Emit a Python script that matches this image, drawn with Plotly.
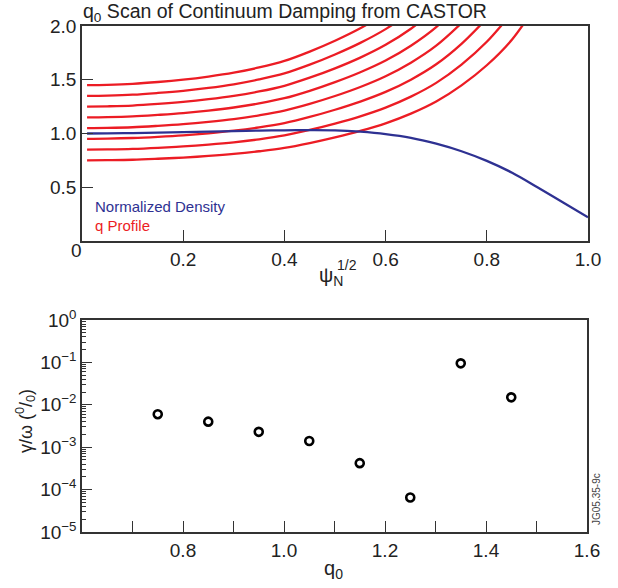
import plotly.graph_objects as go

# ---------------- data ----------------
psi = [0.01, 0.05, 0.10, 0.15, 0.20, 0.25, 0.30, 0.35, 0.40, 0.45, 0.50,
       0.55, 0.60, 0.65, 0.70, 0.75, 0.80, 0.85, 0.90, 0.95, 1.00]

density = [1.000, 1.002, 1.004, 1.008, 1.012, 1.017, 1.022, 1.027, 1.030, 1.032, 1.030,
           1.017, 0.995, 0.960, 0.905, 0.835, 0.745, 0.635, 0.500, 0.360, 0.220]

q_075 = [0.750, 0.752, 0.756, 0.765, 0.776, 0.791, 0.810, 0.835, 0.866, 0.911, 0.964,
         1.024, 1.095, 1.185, 1.298, 1.448, 1.635, 1.875, 2.213]
q_085 = [0.850, 0.852, 0.857, 0.867, 0.880, 0.897, 0.918, 0.946, 0.982, 1.033, 1.092,
         1.160, 1.241, 1.343, 1.471, 1.641, 1.853, 2.125]
q_095 = [0.950, 0.952, 0.958, 0.969, 0.983, 1.002, 1.026, 1.057, 1.097, 1.154, 1.221,
         1.297, 1.387, 1.501, 1.644, 1.834, 2.071]
q_105 = [1.050, 1.052, 1.058, 1.071, 1.087, 1.108, 1.134, 1.169, 1.213, 1.276, 1.349,
         1.433, 1.533, 1.659, 1.817, 2.027]
q_115 = [1.150, 1.152, 1.159, 1.173, 1.190, 1.213, 1.242, 1.280, 1.328, 1.397, 1.478,
         1.570, 1.679, 1.817, 1.990, 2.220]
q_125 = [1.250, 1.253, 1.260, 1.275, 1.294, 1.319, 1.350, 1.391, 1.444, 1.519, 1.606,
         1.706, 1.825, 1.975, 2.163]
q_135 = [1.350, 1.353, 1.361, 1.377, 1.397, 1.424, 1.458, 1.503, 1.559, 1.640, 1.735,
         1.843, 1.971, 2.133]
q_145 = [1.450, 1.453, 1.462, 1.479, 1.501, 1.530, 1.566, 1.614, 1.675, 1.762, 1.863,
         1.979, 2.117]
q_profiles = [q_075, q_085, q_095, q_105, q_115, q_125, q_135, q_145]

q0_scan = [0.75, 0.85, 0.95, 1.05, 1.15, 1.25, 1.35, 1.45]
damping = [6.0e-3, 4.0e-3, 2.3e-3, 1.4e-3, 4.2e-4, 6.5e-5, 9.5e-2, 1.5e-2]

top_xticks = [0.2, 0.4, 0.6, 0.8, 1.0]
top_yticks = [0.5, 1.0, 1.5, 2.0]
bot_xticks = [0.8, 1.0, 1.2, 1.4, 1.6]
bot_yticks = [1e-5, 1e-4, 1e-3, 1e-2, 1e-1, 1e0]
bot_yticktext = ["10<sup>−5</sup>", "10<sup>−4</sup>", "10<sup>−3</sup>",
                 "10<sup>−2</sup>", "10<sup>−1</sup>", "10<sup>0</sup>"]

# ---------------- styling ----------------
W, H = 618, 588
RED = "#ec1c24"
BLUE = "#2e3192"
FRAME = "#333333"
FONT = "Liberation Sans, Arial, sans-serif"
TXT = "#222222"


def px(x):
    return x / W


def py(y):
    return 1 - y / H


fig = go.Figure()

for q in q_profiles:
    fig.add_trace(go.Scatter(x=psi[:len(q)], y=q, mode="lines",
                             line=dict(color=RED, width=2.3, shape="spline", smoothing=1.0),
                             xaxis="x", yaxis="y", showlegend=False))

fig.add_trace(go.Scatter(x=psi, y=density, mode="lines",
                         line=dict(color=BLUE, width=2.3, shape="spline", smoothing=1.0),
                         xaxis="x", yaxis="y", showlegend=False))

fig.add_trace(go.Scatter(x=q0_scan, y=damping, mode="markers",
                         marker=dict(symbol="circle-open", size=8, color="black",
                                     line=dict(width=2.6, color="black")),
                         xaxis="x2", yaxis="y2", showlegend=False))

axis_common = dict(showline=True, mirror=True, linecolor=FRAME, linewidth=1.5,
                   showgrid=False, zeroline=False, ticks="inside", tickcolor=FRAME,
                   tickwidth=1.2, automargin=False,
                   tickfont=dict(family=FONT, size=19, color=TXT))

fig.update_layout(
    width=W, height=H,
    margin=dict(l=0, r=0, t=0, b=0, pad=0, autoexpand=False),
    paper_bgcolor="white", plot_bgcolor="white",
    font=dict(family=FONT, color=TXT),
    showlegend=False,
    xaxis=dict(domain=[px(82), px(588)], range=[0, 1], tickvals=top_xticks,
               ticktext=["0.2", "0.4", "0.6", "0.8", "1.0"], ticklen=11,
               anchor="y", **axis_common),
    yaxis=dict(domain=[py(241), py(26)], range=[0, 2], tickvals=top_yticks,
               ticktext=["0.5", "1.0", "1.5", "2.0"], ticklen=11,
               anchor="x", **axis_common),
    xaxis2=dict(domain=[px(82), px(587)], range=[0.6, 1.6], tickvals=bot_xticks,
                ticktext=["0.8", "1.0", "1.2", "1.4", "1.6"], ticklen=11,
                minor=dict(dtick=0.1, tick0=0.6, ticks="inside", ticklen=11,
                           tickcolor=FRAME, tickwidth=1.2, showgrid=False),
                anchor="y2", **axis_common),
    yaxis2=dict(domain=[py(532), py(320)], type="log", range=[-5, 0],
                tickvals=bot_yticks, ticktext=bot_yticktext, ticklen=10,
                minor=dict(dtick="D1", ticks="inside", ticklen=4,
                           tickcolor=FRAME, tickwidth=1, showgrid=False),
                anchor="x2", **axis_common),
)

ann = []
ann.append(dict(text="q<sub>0</sub> Scan of Continuum Damping from CASTOR",
                x=px(81), y=py(13), xref="paper", yref="paper", xanchor="left",
                yanchor="middle", showarrow=False,
                font=dict(family=FONT, size=19.5, color=TXT)))
ann.append(dict(text="0", x=px(76), y=py(251), xref="paper", yref="paper",
                xanchor="center", yanchor="middle", showarrow=False,
                font=dict(family=FONT, size=19, color=TXT)))
ann.append(dict(text="ψ<sub>N</sub>", x=px(331), y=py(276),
                xref="paper", yref="paper", xanchor="center", yanchor="middle",
                showarrow=False, font=dict(family=FONT, size=20, color=TXT)))
ann.append(dict(text="1/2", x=px(347), y=py(265),
                xref="paper", yref="paper", xanchor="center", yanchor="middle",
                showarrow=False, font=dict(family=FONT, size=14, color=TXT)))
ann.append(dict(text="Normalized Density", x=px(93), y=py(206), xref="paper",
                yref="paper", xanchor="left", yanchor="middle", showarrow=False,
                font=dict(family=FONT, size=15, color=BLUE)))
ann.append(dict(text="q Profile", x=px(93), y=py(225), xref="paper",
                yref="paper", xanchor="left", yanchor="middle", showarrow=False,
                font=dict(family=FONT, size=15, color=RED)))
ann.append(dict(text="γ/ω (<sup>0</sup>/<sub>0</sub>)", x=px(25), y=py(421),
                xref="paper", yref="paper", xanchor="center", yanchor="middle",
                textangle=-90, showarrow=False,
                font=dict(family=FONT, size=18, color=TXT)))
ann.append(dict(text="q<sub>0</sub>", x=px(333), y=py(569), xref="paper",
                yref="paper", xanchor="center", yanchor="middle", showarrow=False,
                font=dict(family=FONT, size=20, color=TXT)))
ann.append(dict(text="JG05.35-9c", x=px(596), y=py(499), xref="paper",
                yref="paper", xanchor="center", yanchor="middle", textangle=-90,
                showarrow=False, font=dict(family=FONT, size=10, color="#444")))
fig.update_layout(annotations=ann)

fig.write_html("out.html")
